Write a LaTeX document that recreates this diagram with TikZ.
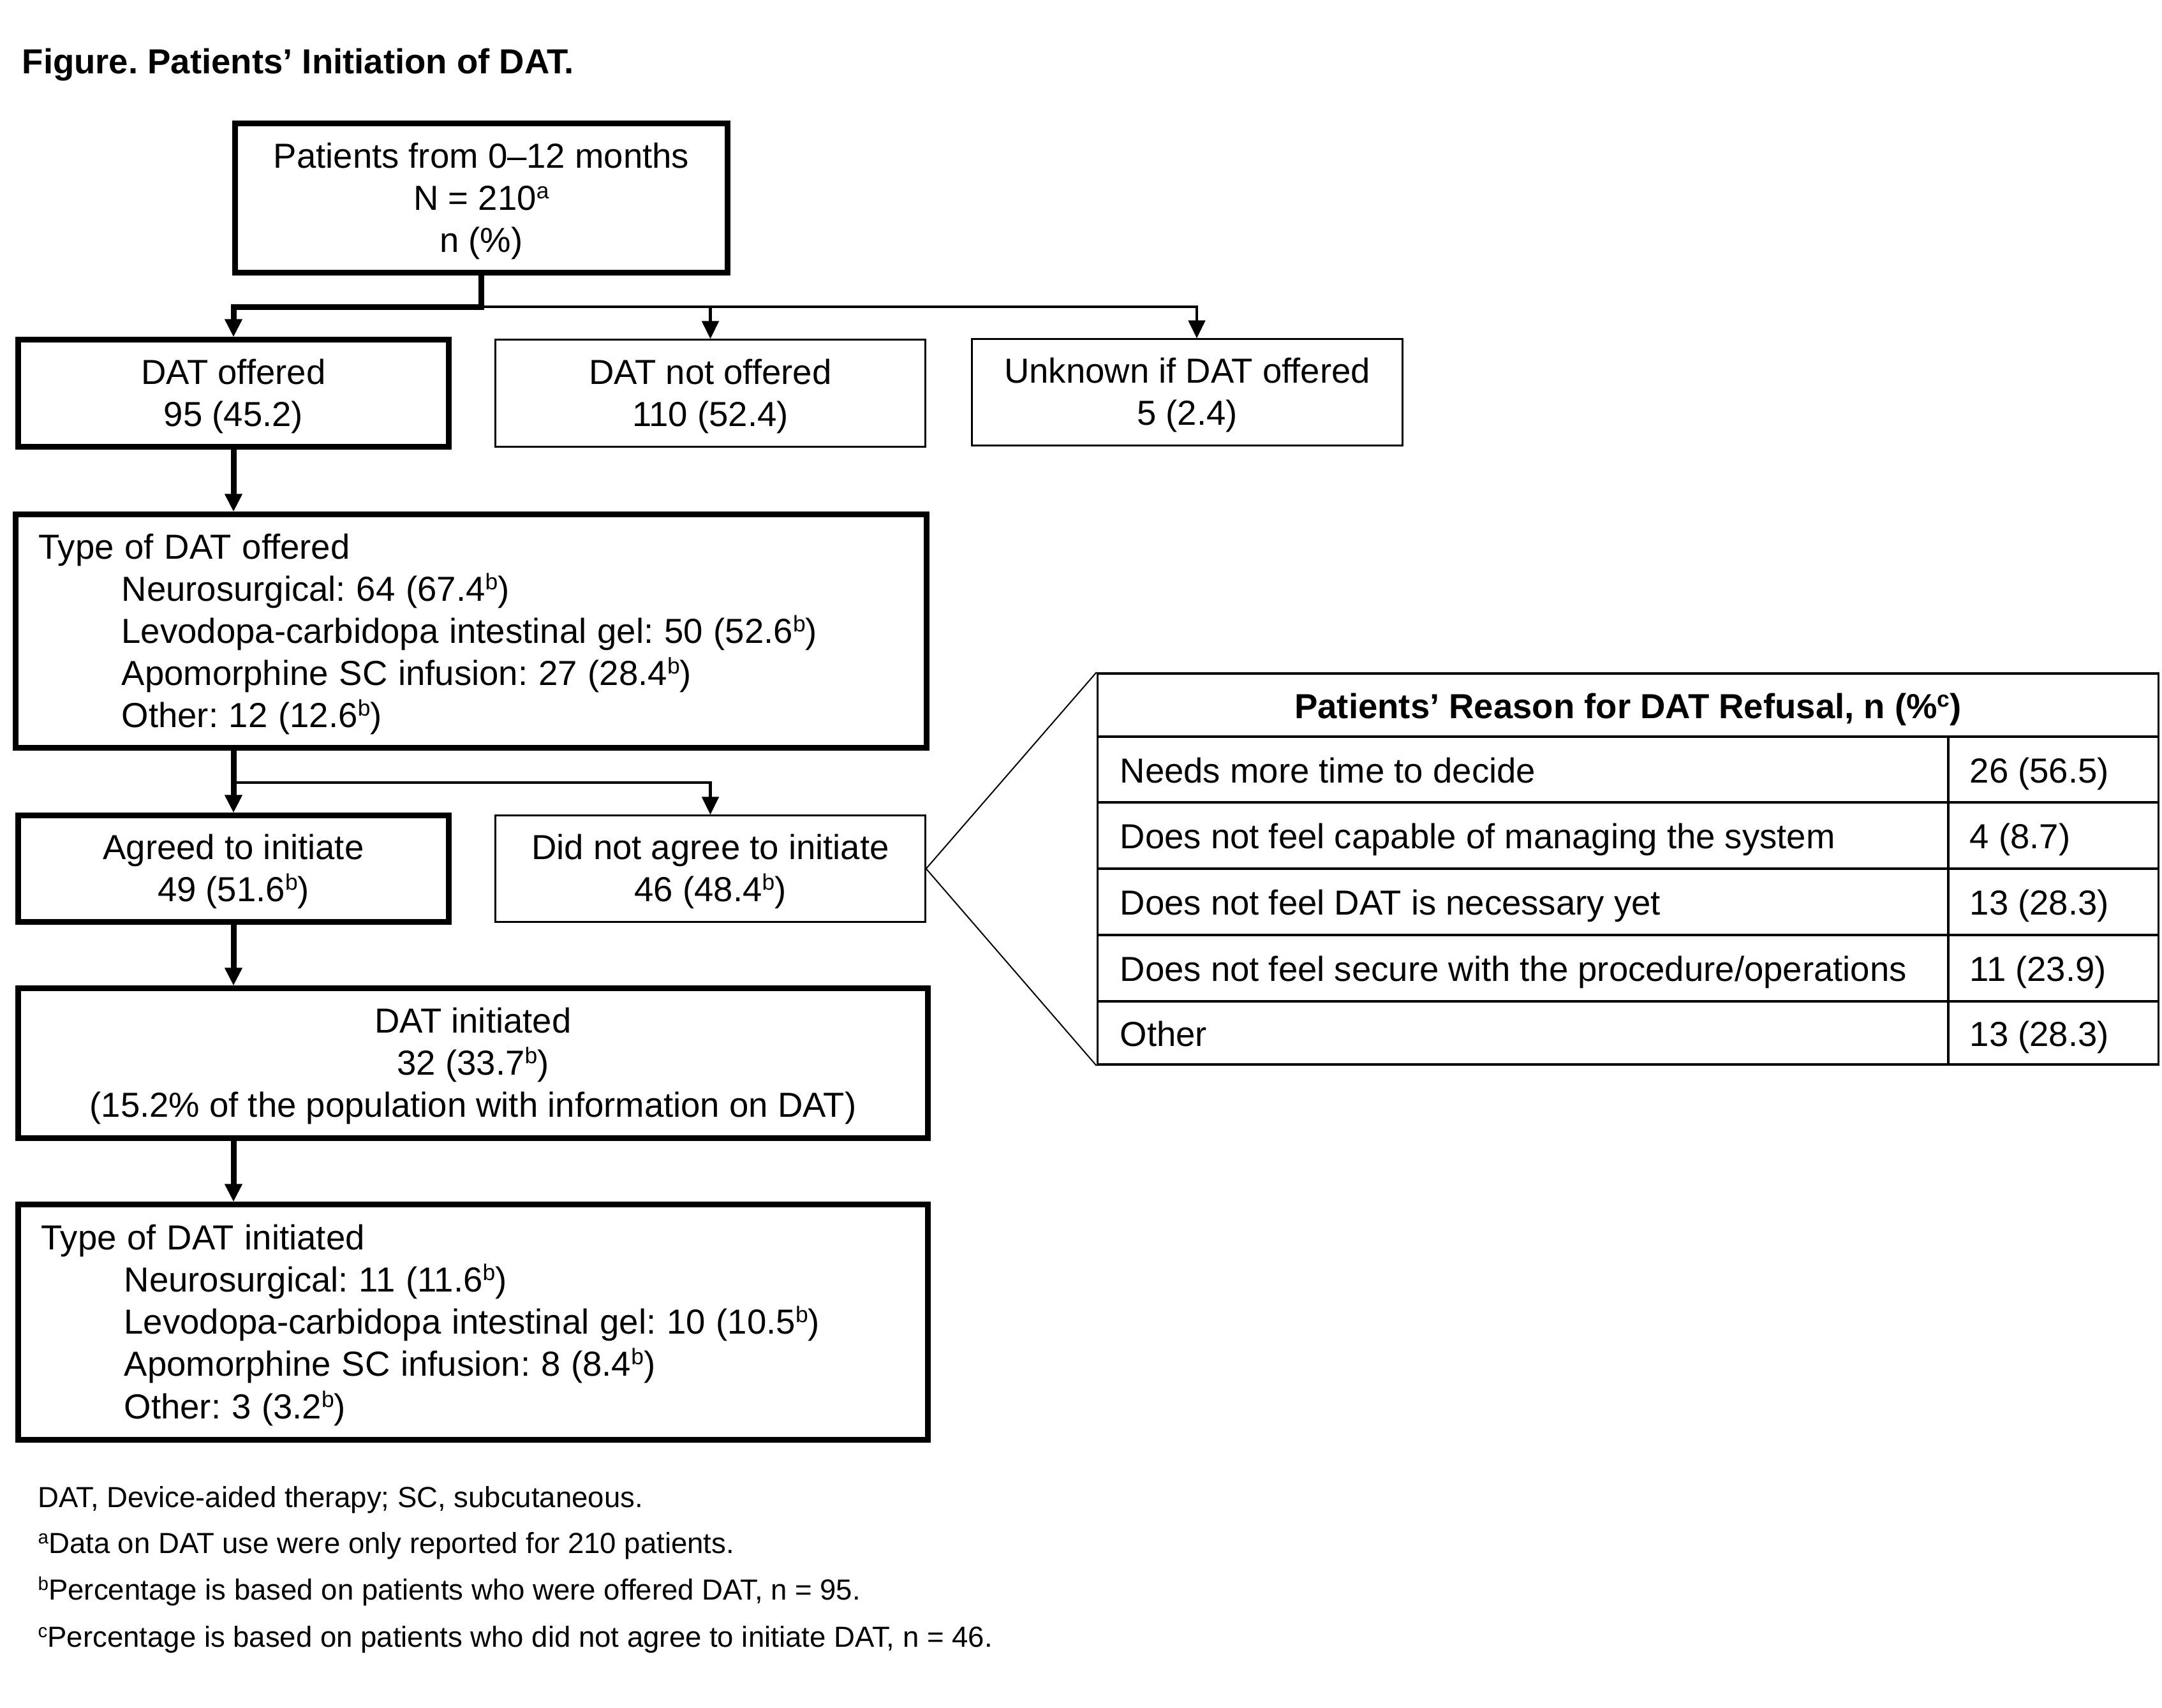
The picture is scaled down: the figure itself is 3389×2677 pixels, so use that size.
\documentclass[tikz,border=0pt]{standalone}
\usepackage{fontspec}
\setmainfont{Liberation Sans}
\usetikzlibrary{arrows.meta,calc}
\frenchspacing
\newcommand\sups[1]{\raisebox{0.33em}{\scalebox{0.65}{#1}}}
\newcommand\mainsz{\fontsize{15.5}{18.78}\selectfont}
\newcommand\notesz{\fontsize{12.95}{15}\selectfont}
\newcommand\topstrut{\rule{0pt}{0.905em}}
\newcommand\botstrut{\rule[-0.212em]{0pt}{0pt}}
\newcommand\natspace{\spaceskip=0pt\xspaceskip=0pt\parindent=0pt}
\newcommand\widespace{\spaceskip=4.8pt\xspaceskip=4.8pt\parindent=0pt}
\tikzset{
  boxbase/.style={draw, rectangle, inner sep=0pt, font=\mainsz, execute at end node=\botstrut},
  thickbox/.style={boxbase, line width=0.09cm, text width=#1, minimum width=#1,
    execute at begin node={\centering\natspace\topstrut}},
  thinbox/.style={boxbase, line width=0.03cm, text width=#1, minimum width=#1,
    execute at begin node={\centering\natspace\topstrut}},
  leftbox/.style={boxbase, line width=0.09cm, inner xsep=0.36cm, text width=#1,
    execute at begin node={\raggedright\widespace\topstrut}},
  thickarrow/.style={line width=0.09cm, -{Triangle[length=0.28cm,width=0.26cm]}},
  thinarrow/.style={line width=0.045cm, -{Triangle[length=0.28cm,width=0.26cm]}},
  zoomline/.style={line width=0.02cm},
  tline/.style={line width=0.035cm},
  celltext/.style={anchor=base west, inner sep=0pt, font=\mainsz},
  notetext/.style={anchor=base west, inner sep=0pt, font=\notesz},
}
\begin{document}
\begin{tikzpicture}[x=0.01cm,y=-0.01cm]
\useasboundingbox (0,0) rectangle (3389,2677);

% title
\node[anchor=base west, inner sep=0pt, font=\mainsz\bfseries] (title) at (34,115) {Figure. Patients’ Initiation of DAT.};

% boxes
\node[thickbox=7.71cm, minimum height=2.33cm] (top) at (754.5,310.5)
  {Patients from 0–12 months\\N = 210\sups{a}\\n (\%)};
\node[thickbox=6.74cm, minimum height=1.67cm] (offered) at (366,616.5)
  {DAT offered\\95 (45.2)};
\node[thinbox=6.73cm, minimum height=1.67cm] (notoff) at (1113.5,616.5)
  {DAT not offered\\110 (52.4)};
\node[thinbox=6.74cm, minimum height=1.66cm] (unknown) at (1861,615)
  {Unknown if DAT offered\\5 (2.4)};
\node[leftbox=13.55cm, minimum width=14.27cm, minimum height=3.65cm] (typeoff) at (738.5,989.5)
  {Type of DAT offered\\
   \hspace*{1.3cm}Neurosurgical: 64 (67.4\sups{b})\\
   \hspace*{1.3cm}Levodopa-carbidopa intestinal gel: 50 (52.6\sups{b})\\
   \hspace*{1.3cm}Apomorphine SC infusion: 27 (28.4\sups{b})\\
   \hspace*{1.3cm}Other: 12 (12.6\sups{b})};
\node[thickbox=6.74cm, minimum height=1.66cm] (agreed) at (366,1362)
  {Agreed to initiate\\49 (51.6\sups{b})};
\node[thinbox=6.73cm, minimum height=1.66cm] (notagree) at (1113.5,1362)
  {Did not agree to initiate\\46 (48.4\sups{b})};
\node[thickbox=14.25cm, minimum height=2.34cm] (initiated) at (741.5,1667)
  {DAT initiated\\32 (33.7\sups{b})\\(15.2\% of the population with information on DAT)};
\node[leftbox=13.53cm, minimum width=14.25cm, minimum height=3.68cm] (typeinit) at (741.5,2073)
  {Type of DAT initiated\\
   \hspace*{1.3cm}Neurosurgical: 11 (11.6\sups{b})\\
   \hspace*{1.3cm}Levodopa-carbidopa intestinal gel: 10 (10.5\sups{b})\\
   \hspace*{1.3cm}Apomorphine SC infusion: 8 (8.4\sups{b})\\
   \hspace*{1.3cm}Other: 3 (3.2\sups{b})};

% connectors
\coordinate (j1) at (754.5,481);
\coordinate (j2) at (366,1227);
\draw[thickarrow] (top.south) -- (j1) -| (offered.north);
\draw[thinarrow] (j1) -| (notoff.north);
\draw[thinarrow] (j1) -| ([xshift=0.15cm]unknown.north);
\draw[thickarrow] (offered.south) -- (offered.south |- typeoff.north);
\draw[thickarrow] (typeoff.south -| j2) -- (agreed.north);
\draw[thinarrow] (j2) -| (notagree.north);
\draw[thickarrow] (agreed.south) -- (initiated.north -| agreed.south);
\draw[thickarrow] (initiated.south -| agreed.south) -- (typeinit.north -| agreed.south);

% table
\node[draw, line width=0.035cm, minimum width=16.62cm, minimum height=6.13cm, inner sep=0pt] (tbl) at (2552,1362.5) {};
\draw[zoomline] (notagree.east) -- (tbl.north west);
\draw[zoomline] (notagree.east) -- (tbl.south west);
\draw[tline] (1721,1155) -- (3383,1155);
\draw[tline] (1721,1258) -- (3383,1258);
\draw[tline] (1721,1362) -- (3383,1362);
\draw[tline] (1721,1466) -- (3383,1466);
\draw[tline] (1721,1570) -- (3383,1570);
\draw[tline] (3054,1155) -- (3054,1669);
\node[anchor=base, inner sep=0pt, font=\mainsz\bfseries] (thead) at (2552,1126) {Patients’ Reason for DAT Refusal, n (\%\sups{c})};
\node[celltext] (r1a) at (1755,1227) {Needs more time to decide};
\node[celltext] (r1b) at (3087,1227) {26 (56.5)};
\node[celltext] (r2a) at (1755,1330) {Does not feel capable of managing the system};
\node[celltext] (r2b) at (3087,1330) {4 (8.7)};
\node[celltext] (r3a) at (1755,1434) {Does not feel DAT is necessary yet};
\node[celltext] (r3b) at (3087,1434) {13 (28.3)};
\node[celltext] (r4a) at (1755,1538) {Does not feel secure with the procedure/operations};
\node[celltext] (r4b) at (3087,1538) {11 (23.9)};
\node[celltext] (r5a) at (1755,1640) {Other};
\node[celltext] (r5b) at (3087,1640) {13 (28.3)};

% footnotes
\node[notetext] (fn1) at (59,2363) {DAT, Device-aided therapy; SC, subcutaneous.};
\node[notetext] (fn2) at (59,2435) {\sups{a}Data on DAT use were only reported for 210 patients.};
\node[notetext] (fn3) at (59,2508) {\sups{b}Percentage is based on patients who were offered DAT, n = 95.};
\node[notetext] (fn4) at (59,2582) {\sups{c}Percentage is based on patients who did not agree to initiate DAT, n = 46.};
\end{tikzpicture}
\end{document}
